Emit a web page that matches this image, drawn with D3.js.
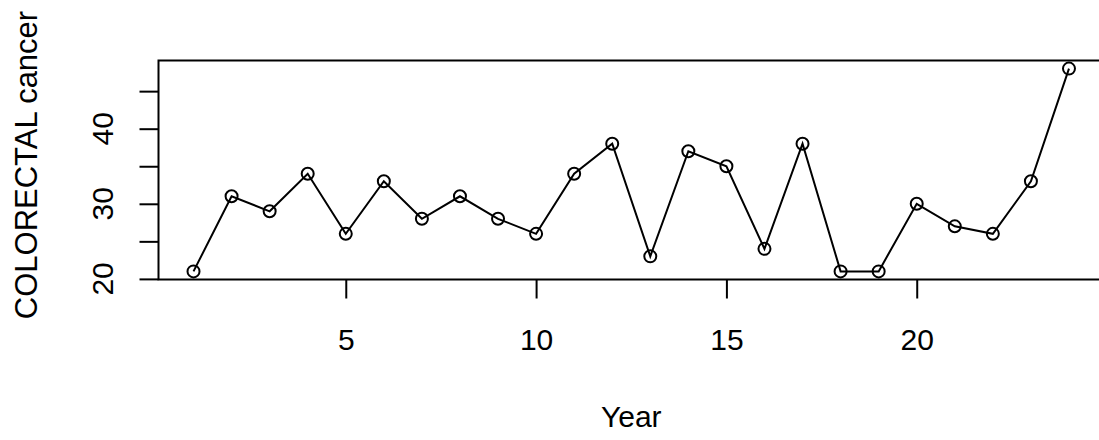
<!DOCTYPE html>
<html>
<head>
<meta charset="utf-8">
<script src="https://cdnjs.cloudflare.com/ajax/libs/d3/7.8.5/d3.min.js"></script>
<style>
body { margin: 0; background: #fff; }
text { font-family: "Liberation Sans", Arial, sans-serif; fill: #000; }
</style>
</head>
<body>
<script>
// data
var years = [1,2,3,4,5,6,7,8,9,10,11,12,13,14,15,16,17,18,19,20,21,22,23,24];
var cases = [21,31,29,34,26,33,28,31,28,26,34,38,23,37,35,24,38,21,21,30,27,26,33,48];
var xTicks = [5,10,15,20];
var yTicks = [20,25,30,35,40,45];
var yLabels = [20,30,40];

var width = 1099, height = 440;
var fontSize = 30;

var svg = d3.select("body").append("svg").attr("width", width).attr("height", height);

// R style 4% padding around the data range
var xPad = (d3.max(years) - d3.min(years)) * 0.04;
var yPad = (d3.max(cases) - d3.min(cases)) * 0.04;
var xScale = d3.scaleLinear().domain([d3.min(years) - xPad, d3.max(years) + xPad]).range([158.5, 1104]);
var yScale = d3.scaleLinear().domain([d3.min(cases) - yPad, d3.max(cases) + yPad]).range([279.5, 60.5]);

var plotTop = yScale.range()[1], plotBottom = yScale.range()[0];
var plotLeft = xScale.range()[0], plotRight = xScale.range()[1];

// box
svg.append("rect")
  .attr("x", plotLeft).attr("y", plotTop)
  .attr("width", plotRight - plotLeft).attr("height", plotBottom - plotTop)
  .attr("fill", "none").attr("stroke", "#000").attr("stroke-width", 2);

// x axis (ticks only, the box gives the line)
var xAxis = d3.axisBottom(xScale).tickValues(xTicks).tickSize(19).tickPadding(51).tickFormat(d3.format("d"));
var gx = svg.append("g").attr("transform", "translate(0," + plotBottom + ")").call(xAxis);
gx.select(".domain").remove();
gx.selectAll(".tick line").attr("stroke", "#000").attr("stroke-width", 2);
gx.selectAll(".tick text").attr("font-size", fontSize).attr("font-family", "Liberation Sans, Arial, sans-serif").attr("dy", 0);

// y axis ticks
var yAxis = d3.axisLeft(yScale).tickValues(yTicks).tickSize(19).tickFormat("");
var gy = svg.append("g").attr("transform", "translate(" + plotLeft + ",0)").call(yAxis);
gy.select(".domain").remove();
gy.selectAll(".tick line").attr("stroke", "#000").attr("stroke-width", 2);

// y tick labels, rotated like R's las=0
svg.selectAll(".ylab")
  .data(yLabels)
  .enter()
  .append("text")
  .attr("class", "ylab")
  .attr("transform", function(d) { return "translate(113," + yScale(d) + ") rotate(-90)"; })
  .attr("text-anchor", "middle")
  .attr("font-size", fontSize)
  .text(function(d) { return d; });

// line (type="o": passes through the open circles)
var line = d3.line()
  .x(function(d, i) { return xScale(years[i]); })
  .y(function(d) { return yScale(d); });

svg.append("path")
  .datum(cases)
  .attr("d", line)
  .attr("fill", "none")
  .attr("stroke", "#000")
  .attr("stroke-width", 2);

// points
svg.selectAll(".pt")
  .data(cases)
  .enter()
  .append("circle")
  .attr("class", "pt")
  .attr("cx", function(d, i) { return xScale(years[i]); })
  .attr("cy", function(d) { return yScale(d); })
  .attr("r", 6)
  .attr("fill", "none")
  .attr("stroke", "#000")
  .attr("stroke-width", 2);

// axis titles
svg.append("text")
  .attr("x", (plotLeft + plotRight) / 2)
  .attr("y", 427)
  .attr("text-anchor", "middle")
  .attr("font-size", fontSize)
  .text("Year");

svg.append("text")
  .attr("transform", "translate(37,165) rotate(-90)")
  .attr("text-anchor", "middle")
  .attr("font-size", 31)
  .text("COLORECTAL cancer");
</script>
</body>
</html>
